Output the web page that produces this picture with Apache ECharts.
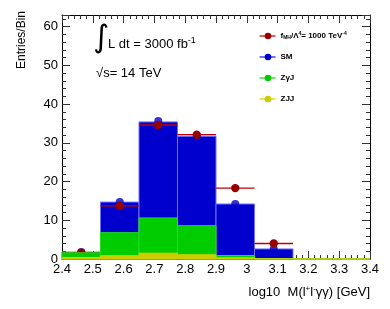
<!DOCTYPE html>
<html><head><meta charset="utf-8">
<script src="https://cdn.jsdelivr.net/npm/echarts@6/dist/echarts.min.js"></script>
<style>html,body{margin:0;padding:0;background:#fff}#c{width:390px;height:309px}</style>
</head><body><div id="c"></div>
<script>
// Bin edges (log10 M, GeV)
const binEdges = [2.4, 2.525, 2.65, 2.775, 2.9, 3.025, 3.15, 3.275, 3.4];
// Histogram contents (Entries/Bin)
const smValues = [1.8, 14.7, 35.4, 31.7, 14.2, 2.6, 0, 0];
const zgjValues = [1.6, 6.8, 10.6, 8.6, 0.9, 0.1, 0, 0];
const zjjValues = [0.4, 0.85, 1.5, 1.1, 0.3, 0.05, 0, 0];
const signalValues = [1.6, 13.7, 34.6, 32.1, 18.3, 4.0];
const smMarkerValues = [1.8, 14.7, 35.6, 31.7, 14.2, 2.6];
// Axis ticks
const xTicks = ['2.4','2.5','2.6','2.7','2.8','2.9','3','3.1','3.2','3.3','3.4'];
const yTicks = [0, 10, 20, 30, 40, 50, 60];

const FONT = '"Liberation Sans", Arial, Helvetica, sans-serif';

function histData(vals){
  return vals.map((v,i)=>[binEdges[i], binEdges[i+1], v]);
}
function histSeries(name, vals, fill, stroke, z){
  return {
    type:'custom', name, z, data: histData(vals),
    encode:{x:[0,1], y:2},
    renderItem(params, api){
      const p0 = api.coord([api.value(0), api.value(2)]);
      const p1 = api.coord([api.value(1), 0]);
      return {type:'rect', shape:{x:p0[0], y:p0[1], width:p1[0]-p0[0], height:p1[1]-p0[1]},
        style:{fill, stroke, lineWidth:1}};
    }
  };
}

const chart = echarts.init(document.getElementById('c'), null, {renderer:'canvas'});
const tickStyle = {lineStyle:{color:'#333', width:1}};
const option = {
  animation:false,
  grid:{left:62, right:20, top:15, bottom:50},
  xAxis:[{
    type:'value', min:2.4, max:3.4, interval:0.1, position:'bottom',
    axisLine:{onZero:false, lineStyle:{color:'#000', width:1}},
    axisTick:{inside:true, length:8, ...tickStyle},
    minorTick:{show:true, splitNumber:5, length:4, ...tickStyle},
    splitLine:{show:false},
    axisLabel:{color:'#000', fontSize:13, fontFamily:FONT, margin:4,
      formatter:(v)=>{const i=Math.round((v-2.4)*10); return xTicks[i]!==undefined?xTicks[i]:'';}}
  },{
    type:'value', min:2.4, max:3.4, interval:0.1, position:'top',
    axisLine:{onZero:false, lineStyle:{color:'#000', width:1}},
    axisTick:{inside:true, length:8, ...tickStyle},
    minorTick:{show:true, splitNumber:5, length:4, ...tickStyle},
    splitLine:{show:false}, axisLabel:{show:false}
  }],
  yAxis:[{
    type:'value', min:0, max:63, interval:10, position:'left',
    axisLine:{onZero:false, lineStyle:{color:'#000', width:1}},
    axisTick:{inside:true, length:8, ...tickStyle},
    minorTick:{show:true, splitNumber:5, length:4, ...tickStyle},
    splitLine:{show:false},
    axisLabel:{color:'#000', fontSize:13, fontFamily:FONT, margin:4,
      formatter:(v)=> yTicks.indexOf(Math.round(v))>=0 && Math.abs(v-Math.round(v))<1e-6 ? String(Math.round(v)) : ''}
  },{
    type:'value', min:0, max:63, interval:10, position:'right',
    axisLine:{onZero:false, lineStyle:{color:'#000', width:1}},
    axisTick:{inside:true, length:8, ...tickStyle},
    minorTick:{show:true, splitNumber:5, length:4, ...tickStyle},
    splitLine:{show:false}, axisLabel:{show:false}
  }],
  series:[
    histSeries('SM', smValues, '#0000cc', '#7070ff', 1),
    {type:'scatter', name:'SM points', z:2, symbol:'circle', symbolSize:8,
      itemStyle:{color:'#0000cc'},
      data: smMarkerValues.map((v,i)=>[(binEdges[i]+binEdges[i+1])/2, v])},
    {type:'custom', name:'signal', z:3,
      data: signalValues.map((v,i)=>[binEdges[i], binEdges[i+1], v]),
      encode:{x:[0,1], y:2},
      renderItem(params, api){
        const a = api.coord([api.value(0), api.value(2)]);
        const b = api.coord([api.value(1), api.value(2)]);
        const c = api.coord([(api.value(0)+api.value(1))/2, api.value(2)]);
        return {type:'group', children:[
          {type:'line', shape:{x1:a[0], y1:a[1], x2:b[0], y2:b[1]}, style:{stroke:'#c00000', lineWidth:1.3}},
          {type:'circle', shape:{cx:c[0], cy:c[1], r:4.2}, style:{fill:'#990000'}}
        ]};
      }},
    histSeries('ZγJ', zgjValues, '#00cc00', '#22dd22', 4),
    histSeries('ZJJ', zjjValues, '#cccc00', '#c8d400', 5)
  ],
  graphic:[
    // y axis title
    {type:'text', x:16, y:11, rotation:Math.PI/2, z:10,
      style:{text:'Entries/Bin', font:'12px '+FONT, fill:'#000', align:'right', verticalAlign:'top'}},
    // luminosity label
    {type:'text', left:93, top:23, z:10, style:{text:'∫', font:'31px "DejaVu Sans"', fill:'#000'}},
    {type:'text', left:108, top:36, z:10, style:{
      text:'L dt = 3000 fb{s|-1}', font:'13px '+FONT, fill:'#000',
      rich:{s:{fontSize:9, fontFamily:FONT, verticalAlign:'top', padding:[0,0,8,0]}}}},
    {type:'text', left:96, top:67, z:10, style:{text:'√s= 14 TeV', font:'13px '+FONT, fill:'#000'}},
    // legend
    {type:'group', left:257, top:31, z:10, children:[
      {type:'line', shape:{x1:0,y1:4,x2:16,y2:4}, style:{stroke:'#cc3333', lineWidth:1.5}},
      {type:'circle', shape:{cx:8.5, cy:4, r:3.3}, style:{fill:'#990000'}},
      {type:'text', x:21, y:-1, style:{text:'f{sub|MH}/Λ{sup|4}= 1000 TeV{sup|-4}', font:'bold 8px '+FONT, fill:'#000',
        rich:{sub:{fontSize:5, fontWeight:'bold', padding:[4,0,0,0]}, sup:{fontSize:5, fontWeight:'bold', padding:[0,0,4,0]}}}},
      {type:'line', shape:{x1:0,y1:25,x2:16,y2:25}, style:{stroke:'#4444ff', lineWidth:1.5}},
      {type:'circle', shape:{cx:8.5, cy:25, r:3.3}, style:{fill:'#0000cc'}},
      {type:'text', x:21, y:20.5, style:{text:'SM', font:'bold 8px '+FONT, fill:'#000'}},
      {type:'line', shape:{x1:0,y1:46,x2:16,y2:46}, style:{stroke:'#44dd44', lineWidth:1.5}},
      {type:'circle', shape:{cx:8.5, cy:46, r:3.3}, style:{fill:'#00cc00'}},
      {type:'text', x:21, y:41.5, style:{text:'ZγJ', font:'bold 8px '+FONT, fill:'#000'}},
      {type:'line', shape:{x1:0,y1:67,x2:16,y2:67}, style:{stroke:'#dddd22', lineWidth:1.5}},
      {type:'circle', shape:{cx:8.5, cy:67, r:3.3}, style:{fill:'#cccc00'}},
      {type:'text', x:21, y:62.5, style:{text:'ZJJ', font:'bold 8px '+FONT, fill:'#000'}}
    ]},
    // x axis title
    {type:'text', right:20, top:285, z:10, style:{
      text:'log10  M(l{sup|+}l{sup|-}γγ) [GeV]', font:'13px '+FONT, fill:'#000',
      rich:{sup:{fontSize:8, fontFamily:FONT, padding:[0,0,7,0]}}}}
  ]
};
chart.setOption(option);
</script></body></html>
